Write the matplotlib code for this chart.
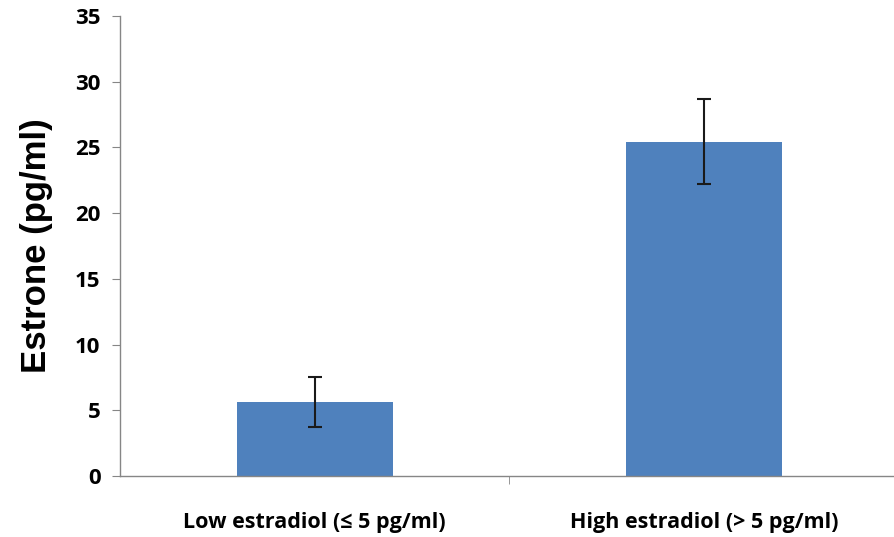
import numpy as np
import matplotlib.pyplot as plt

categories = ['Low estradiol (≤ 5 pg/ml)', 'High estradiol (> 5 pg/ml)']
values = [5.65, 25.45]
errors = [1.9, 3.25]
yticks = [0, 5, 10, 15, 20, 25, 30, 35]

fig = plt.figure(figsize=(8.95, 5.37), dpi=100)
ax = fig.add_axes([0.134, 0.1136, 0.866, 0.8566])

x = np.arange(len(categories))
ax.bar(x, values, width=0.4, color='#4F81BD', zorder=2)
ax.errorbar(x, values, yerr=errors, fmt='none', ecolor='#1a1a1a',
            elinewidth=1.5, capsize=5, capthick=1.5, zorder=3)

ax.set_xlim(-0.5, 1.49)
ax.set_ylim(0, 35)
ax.set_yticks(yticks)
ax.set_yticklabels([str(t) for t in yticks], fontsize=16, fontweight='bold',
                   family='Open Sans')

# category labels sit between the boundary ticks
ax.set_xticks(x)
ax.set_xticklabels(categories, fontsize=15.5, fontweight='bold', family='Open Sans')
ax.tick_params(axis='x', length=0, pad=26)
ax.set_xticks([0.5], minor=True)
ax.tick_params(axis='x', which='minor', length=6, color='#868686', direction='out')
ax.tick_params(axis='y', length=6, color='#868686', direction='out', pad=8)

for s in ['top', 'right']:
    ax.spines[s].set_visible(False)
for s in ['left', 'bottom']:
    ax.spines[s].set_color('#868686')
    ax.spines[s].set_linewidth(1)

ax.set_ylabel('Estrone (pg/ml)', fontsize=25, fontweight='bold',
              family='Liberation Sans', labelpad=16)

fig.savefig('out.png', dpi=100)
